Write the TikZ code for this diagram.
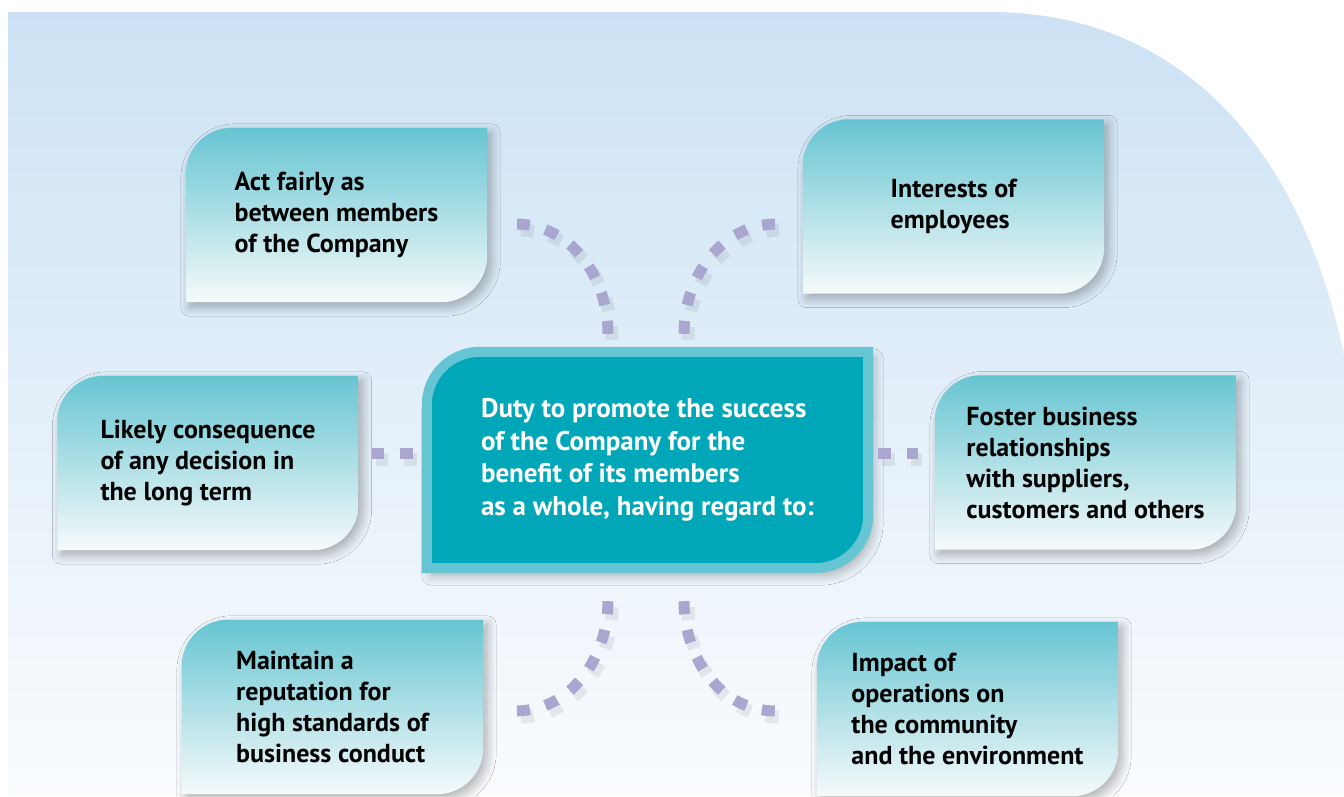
\documentclass[tikz,border=0pt]{standalone}
\usepackage{fontspec}
\setmainfont{PT Sans}
\usetikzlibrary{shadows.blur}
\pgfdeclarelayer{background}
\pgfsetlayers{background,main}
\definecolor{skytop}{HTML}{CCE2F4}
\definecolor{skybot}{HTML}{FAFCFE}
\definecolor{tealtop}{HTML}{66C5D2}
\definecolor{tealbot}{HTML}{F6FAFA}
\definecolor{dutyteal}{HTML}{00A7B8}
\definecolor{dutyrim}{HTML}{66C5D2}
\definecolor{dashlilac}{HTML}{A9A7D0}
% box with rounded top left and bottom right corners, drawn round a node
\newcommand{\leafshape}[3][46pt]{%
  \path[#3] (#2.south west) -- ([yshift=-#1]#2.north west)
    arc[start angle=180,end angle=90,radius=#1] -- (#2.north east)
    -- ([yshift=#1]#2.south east) arc[start angle=0,end angle=-90,radius=#1] -- cycle;}
\tikzset{
  leaf/.style={minimum width=301pt,minimum height=174pt,inner sep=0pt,align=left,
    font=\bfseries\fontsize{26}{31}\selectfont},
  leaffill/.style={top color=tealtop,bottom color=tealbot,
    blur shadow={shadow xshift=4pt,shadow yshift=-5pt,shadow blur radius=9pt,
      shadow blur steps=12,shadow opacity=30}},
  dutybox/.style={fill=dutyteal,draw=dutyrim,line width=10pt,
    blur shadow={shadow xshift=5pt,shadow yshift=-7pt,shadow blur radius=10pt,
      shadow blur steps=12,shadow opacity=30}},
  link/.style={draw=dashlilac,line width=11pt,dash pattern=on 13pt off 16pt,
    preaction={draw=black,opacity=0.07,line width=13pt,dash pattern=on 13pt off 16pt,
      transform canvas={shift={(4pt,-6pt)}}}}
}
\begin{document}
\begin{tikzpicture}[x=1pt,y=1pt]
	\useasboundingbox (0,0) rectangle (1344,-796);
	\node[leaf] (act) at (336.5,-215) {Act fairly as\\between members\\of the Company};
	\node[leaf] (staff) at (953.5,-206.5) {Interests of\\employees};
	\node[leaf] (likely) at (208,-463) {Likely consequence\\of any decision in\\the long term};
	\node[leaf] (foster) at (1085.5,-462.5) {Foster business\\relationships\\with suppliers,\\customers and others};
	\node[leaf] (repute) at (332.5,-707) {Maintain a\\reputation for\\high standards of\\business conduct};
	\node[leaf] (impact) at (967.5,-709) {Impact of\\operations on\\the community\\and the environment};
	\node[leaf,minimum width=441pt,minimum height=216pt,text=white,
		font=\bfseries\fontsize{27}{32.5}\selectfont] (duty) at (647.5,-460)
		{Duty to promote the success\\of the Company for the\\benefit of its members\\as a whole, having regard to:};
	\begin{pgfonlayer}{background}
		\shade[top color=skytop,bottom color=skybot] (8,-12) -- (990,-12)
			.. controls (1180,-12) and (1320,-150) .. (1355,-420) -- (1355,-796) -- (8,-796) -- cycle;
		\leafshape{act}{leaffill}
		\leafshape{staff}{leaffill}
		\leafshape{likely}{leaffill}
		\leafshape{foster}{leaffill}
		\leafshape{repute}{leaffill}
		\leafshape{impact}{leaffill}
		\leafshape[53pt]{duty}{dutybox}
	\end{pgfonlayer}
	\draw[link] ([xshift=-39.5pt,yshift=18pt]duty.north) to[out=90,in=0] ([xshift=28pt,yshift=-9pt]act.east);
	\draw[link] ([xshift=36.5pt,yshift=18pt]duty.north) to[out=90,in=180] ([xshift=-26pt,yshift=-17.5pt]staff.west);
	\draw[link] ([xshift=-14pt,yshift=7pt]duty.west) -- ([xshift=13pt,yshift=10pt]likely.east);
	\draw[link] ([xshift=10pt,yshift=7pt]duty.east) -- ([xshift=-17pt,yshift=9.5pt]foster.west);
	\draw[link] ([xshift=-39.5pt,yshift=-33pt]duty.south) to[out=-90,in=0] ([xshift=32pt,yshift=-4pt]repute.east);
	\draw[link] ([xshift=36.5pt,yshift=-33pt]duty.south) to[out=-90,in=180] ([xshift=-41pt,yshift=-2pt]impact.west);
\end{tikzpicture}
\end{document}
